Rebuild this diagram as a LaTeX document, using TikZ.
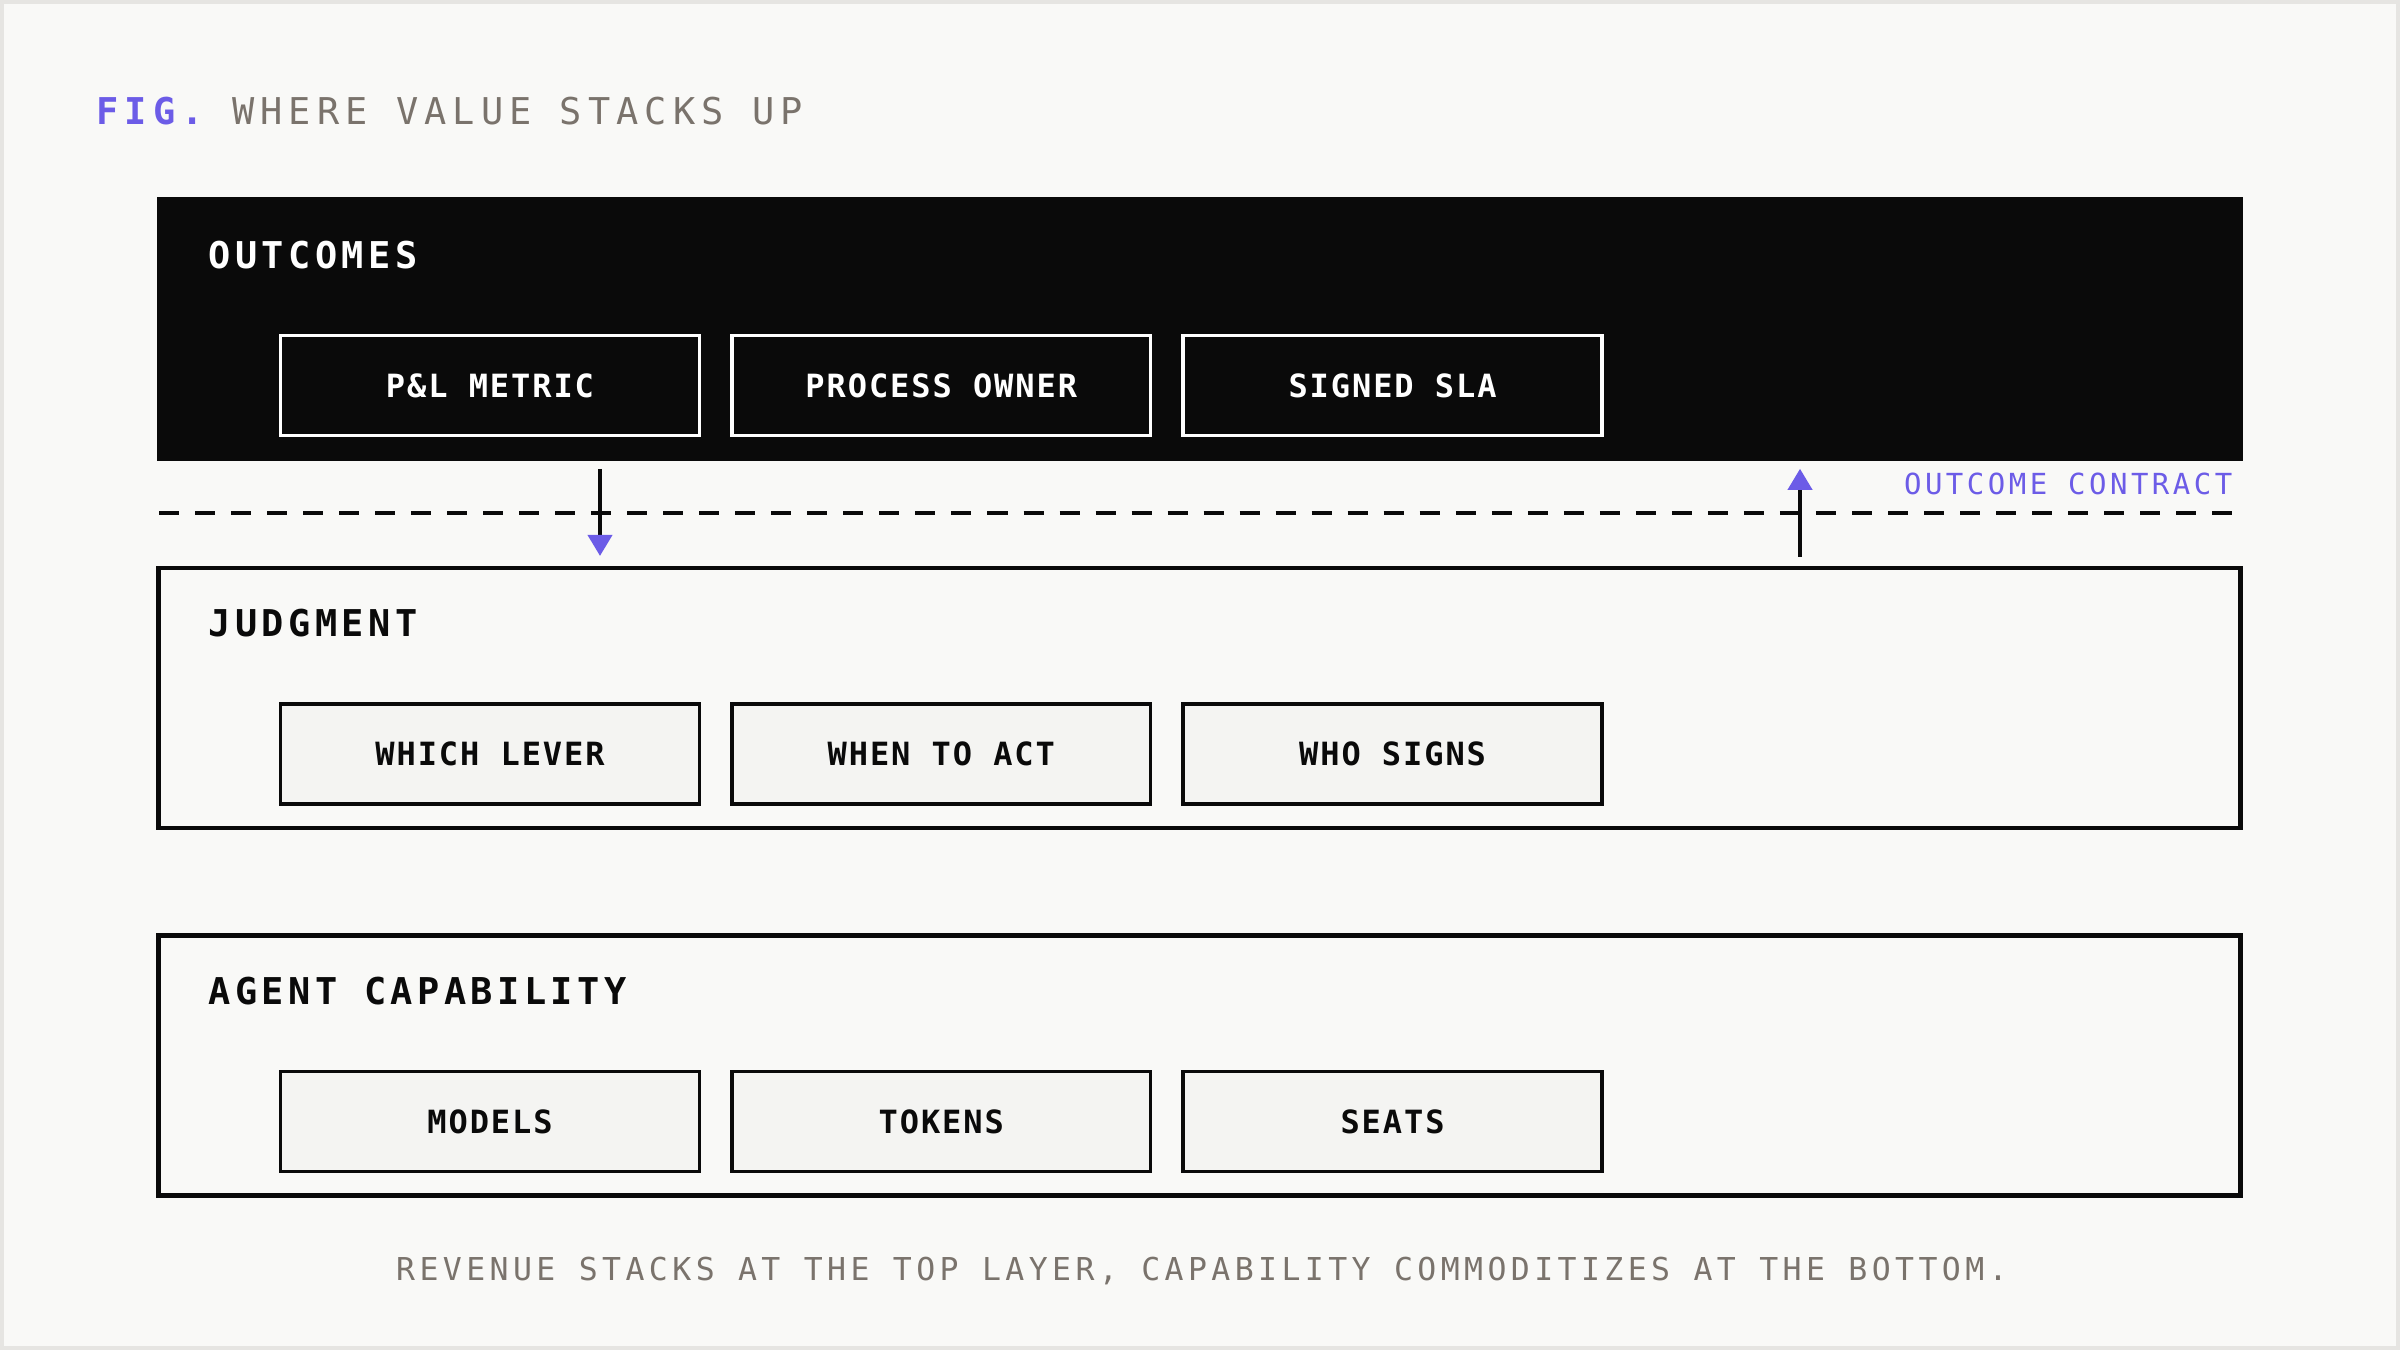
\documentclass[tikz,border=0pt]{standalone}
\usepackage{fontspec}
\usetikzlibrary{positioning,arrows.meta}
\newfontfamily\titlefont[LetterSpace=16.5]{DejaVu Sans Mono}
\newfontfamily\layerfont[LetterSpace=12]{DejaVu Sans Mono}
\newfontfamily\cellfont[LetterSpace=6]{DejaVu Sans Mono}
\newfontfamily\tagfont[LetterSpace=12]{DejaVu Sans Mono}
\newfontfamily\notefont[LetterSpace=14]{DejaVu Sans Mono}
\definecolor{accent}{HTML}{6C5CE7}
\definecolor{ink}{HTML}{0A0A0A}
\definecolor{paper}{HTML}{F9F9F7}
\definecolor{cellgray}{HTML}{F4F4F2}
\definecolor{framegray}{HTML}{E6E5E2}
\definecolor{textgray}{HTML}{7A736C}
\tikzset {>={Triangle[width=2.4mm,length=2.1mm,color=accent]}}

\begin{document}
\begin{tikzpicture}[x=0.01cm,y=-0.01cm,
  layer/.style={minimum width=20.805cm,minimum height=2.595cm,inner sep=0pt},
  darklayer/.style={layer,fill=ink,minimum width=20.84cm,minimum height=2.64cm},
  openlayer/.style={layer,draw=ink,line width=1.28pt,fill=paper},
  layerlabel/.style={anchor=base west,inner sep=0pt,font=\layerfont\bfseries\fontsize{10.5pt}{12pt}\selectfont},
  cell/.style={minimum width=4.185cm,minimum height=1cm,inner sep=0pt,line width=1pt,
    font=\cellfont\bfseries\fontsize{9.1pt}{11pt}\selectfont},
  darkcell/.style={cell,draw=white,fill=ink,text=white},
  opencell/.style={cell,draw=ink,fill=cellgray,text=ink},
  flow/.style={draw=ink,line width=1.14pt}]

% frame
\fill[framegray] (0,0) rectangle (2400,1350);
\fill[paper] (4,4) rectangle (2396,1346);
\useasboundingbox (0,0) rectangle (2400,1350);

% title
\node[anchor=base west,inner sep=0pt,font=\fontsize{10.5pt}{12pt}\selectfont] (title) at (96,124)
  {\titlefont\bfseries\textcolor{accent}{FIG.} \mdseries\textcolor{textgray}{WHERE VALUE STACKS UP}};

% layers
\node[darklayer] (outcomes) at (1200,329) {};
\node[openlayer] (judgment) at (1199.5,698) {};
\node[openlayer] (capability) at (1199.5,1065.5) {};

\node[layerlabel,text=white] (outcomes-t) at (208,268) {OUTCOMES};
\node[layerlabel,text=ink] (judgment-t) at (208,636) {JUDGMENT};
\node[layerlabel,text=ink] (capability-t) at (208,1004.5) {AGENT CAPABILITY};

% cells
\node[darkcell] (pl) at (490,385.5) {P\&L METRIC};
\node[darkcell,right=0.29cm of pl] (owner) {PROCESS OWNER};
\node[darkcell,right=0.29cm of owner] (sla) {SIGNED SLA};

\node[opencell] (lever) at (490,754) {WHICH LEVER};
\node[opencell,right=0.29cm of lever] (when) {WHEN TO ACT};
\node[opencell,right=0.29cm of when] (who) {WHO SIGNS};

\node[opencell] (models) at (490,1121.5) {MODELS};
\node[opencell,right=0.29cm of models] (tokens) {TOKENS};
\node[opencell,right=0.29cm of tokens] (seats) {SEATS};

% contract line
\coordinate (lineL) at (159,513);
\coordinate (lineR) at (2232,513);
\draw[ink,line width=1.14pt,dash pattern=on 0.2cm off 0.16cm] (lineL) -- (lineR);
\node[anchor=base east,inner sep=0pt,text=accent,font=\tagfont\fontsize{8.25pt}{10pt}\selectfont] (contract) at (2233,494) {OUTCOME CONTRACT};

\coordinate (xdown) at (600,0);
\coordinate (xup) at (1800,0);
\draw[flow,->] ([yshift=-0.07cm]outcomes.south -| xdown) -- ([yshift=0.1cm]judgment.north -| xdown);
\draw[flow,->] ([yshift=0.09cm]judgment.north -| xup) -- ([yshift=-0.07cm]outcomes.south -| xup);

% caption
\node[anchor=base,inner sep=0pt,text=textgray,font=\notefont\fontsize{8.96pt}{11pt}\selectfont] (note) at (1202,1280)
  {REVENUE STACKS AT THE TOP LAYER, CAPABILITY COMMODITIZES AT THE BOTTOM.};
\end{tikzpicture}
\end{document}
